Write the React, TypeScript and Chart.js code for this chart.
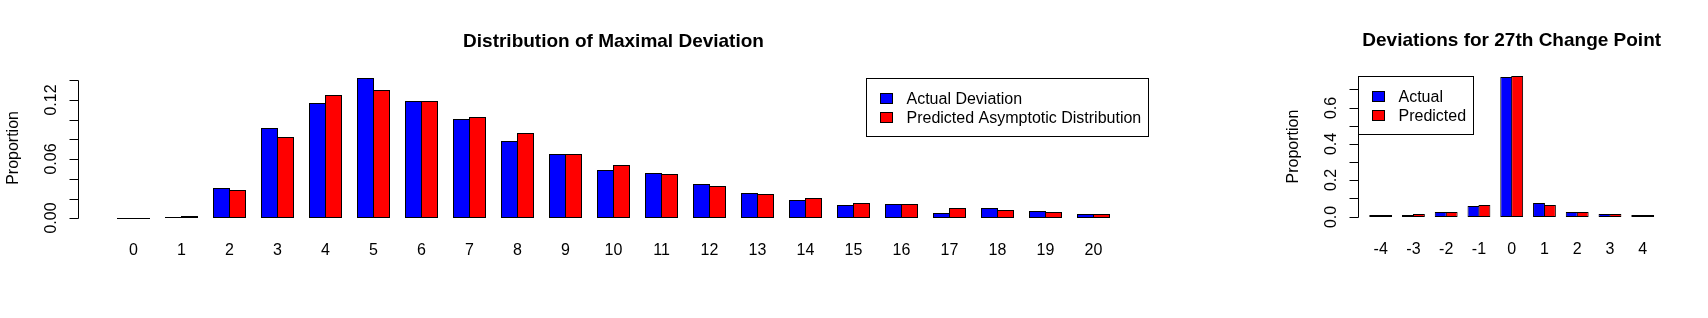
import React, { useEffect, useRef } from "react";
import { Chart, registerables } from "chart.js";

Chart.register(...registerables);

// ---------- data ----------
const mainCategories = ["0", "1", "2", "3", "4", "5", "6", "7", "8", "9", "10", "11", "12", "13", "14", "15", "16", "17", "18", "19", "20"];
const mainActual = [0.0002, 0.0014, 0.0308, 0.0913, 0.117, 0.1424, 0.1187, 0.1004, 0.0785, 0.0649, 0.0487, 0.0457, 0.0345, 0.0254, 0.0183, 0.0132, 0.0142, 0.0051, 0.0101, 0.0071, 0.0041];
const mainPredicted = [0.0001, 0.0024, 0.0284, 0.0822, 0.1251, 0.1302, 0.1187, 0.1028, 0.0866, 0.0649, 0.0538, 0.0446, 0.0325, 0.0243, 0.0203, 0.0152, 0.0142, 0.0101, 0.0081, 0.0061, 0.0041];
const mainYTicks = [0, 0.02, 0.04, 0.06, 0.08, 0.1, 0.12, 0.14];
const mainYTickLabels = ["0.00", "", "", "0.06", "", "", "0.12", ""];
const mainLegend = ["Actual Deviation", "Predicted Asymptotic Distribution"];
const mainTitle = "Distribution of Maximal Deviation";

const smallCategories = ["-4", "-3", "-2", "-1", "0", "1", "2", "3", "4"];
const smallActual = [0.004, 0.003, 0.024, 0.057, 0.766, 0.073, 0.024, 0.013, 0.004];
const smallPredicted = [0.004, 0.013, 0.024, 0.062, 0.771, 0.062, 0.024, 0.013, 0.004];
const smallYTicks = [0, 0.1, 0.2, 0.3, 0.4, 0.5, 0.6, 0.7];
const smallYTickLabels = ["0.0", "", "0.2", "", "0.4", "", "0.6", ""];
const smallLegend = ["Actual", "Predicted"];
const smallTitle = "Deviations for 27th Change Point";

const yTitle = "Proportion";
const BLUE = "#0000FF";
const RED = "#FF0000";
const FONT = '"Liberation Sans", Arial, Helvetica, sans-serif';

const fontStr = (size: number, bold = false) => `${bold ? "bold " : ""}${size}px ${FONT}`;

// R-style axes, title, labels and legend, drawn from the chart's scales
const rStylePlugin = {
  id: "rStyle",
  afterDraw(chart: any, _args: any, o: any) {
    const ctx = chart.ctx as CanvasRenderingContext2D;
    const a = chart.chartArea;
    const xs = chart.scales.x;
    const ys = chart.scales.y;
    ctx.save();
    ctx.fillStyle = "#000";
    ctx.strokeStyle = "#000";
    ctx.lineWidth = 1;

    // title
    ctx.font = fontStr(19, true);
    ctx.textAlign = "center";
    ctx.textBaseline = "alphabetic";
    ctx.fillText(o.title, (a.left + a.right) / 2, a.top - 25.3);

    // y axis
    const ax = Math.round(a.left) + 0.5;
    const ticks: number[] = o.yTicks;
    const p0 = Math.floor(ys.getPixelForValue(ticks[0])) + 0.5;
    const p1 = Math.floor(ys.getPixelForValue(ticks[ticks.length - 1])) + 0.5;
    ctx.beginPath();
    ctx.moveTo(ax, p0);
    ctx.lineTo(ax, p1);
    ticks.forEach((v) => {
      const py = Math.floor(ys.getPixelForValue(v)) + 0.5;
      ctx.moveTo(ax, py);
      ctx.lineTo(ax - 9, py);
    });
    ctx.stroke();

    ctx.font = fontStr(16);
    ticks.forEach((v, i) => {
      const lab = o.yTickLabels[i];
      if (!lab) return;
      ctx.save();
      ctx.translate(ax - 22.7, ys.getPixelForValue(v));
      ctx.rotate(-Math.PI / 2);
      ctx.textAlign = "center";
      ctx.fillText(lab, 0, 0);
      ctx.restore();
    });

    // y title
    ctx.save();
    ctx.translate(ax - 61, (a.top + a.bottom) / 2);
    ctx.rotate(-Math.PI / 2);
    ctx.textAlign = "center";
    ctx.fillText(o.yTitle, 0, 0);
    ctx.restore();

    // x category labels
    ctx.textAlign = "center";
    (o.categories as string[]).forEach((c, i) => {
      ctx.fillText(c, xs.getPixelForValue(i), a.bottom + 31.5);
    });

    // legend
    const labels: string[] = o.legendLabels;
    const lt = Math.round(ys.getPixelForValue(o.legendValue)) + 0.5;
    const tw = Math.max(...labels.map((l) => ctx.measureText(l).width));
    const bw = Math.round(tw + 47.5);
    const bh = 58;
    const left = o.legendSide === "right" ? Math.floor(a.right) - 0.5 - bw : ax;
    ctx.fillStyle = "#fff";
    ctx.fillRect(left, lt, bw, bh);
    ctx.strokeRect(left, lt, bw, bh);
    labels.forEach((l, i) => {
      const cy = lt + 19.5 + i * 19.5;
      const top = Math.floor(cy - 5) + 0.5;
      ctx.fillStyle = chart.data.datasets[i].backgroundColor;
      ctx.fillRect(left + 14, top, 12, 10);
      ctx.strokeRect(left + 14, top, 12, 10);
      ctx.fillStyle = "#000";
      ctx.textAlign = "left";
      ctx.fillText(l, left + 40, cy + 5.7);
    });

    ctx.restore();
  },
};

type PanelProps = {
  canvasLeft: number;
  width: number;
  pad: { left: number; right: number; top: number; bottom: number };
  title: string;
  categories: string[];
  actual: number[];
  predicted: number[];
  yTicks: number[];
  yTickLabels: string[];
  legendLabels: string[];
  legendSide: "left" | "right";
  minBar: number;
};

function BarPanel(p: PanelProps) {
  const ref = useRef<HTMLCanvasElement>(null);
  useEffect(() => {
    if (!ref.current) return;
    const n = p.categories.length;
    // R barplot(beside=TRUE) geometry: bar width 1, space c(0,1), 4% axis expansion
    const e = 0.04 * (3 * n - 1);
    const xMin = (1 - e - 2) / 3;
    const xMax = (3 * n + e - 2) / 3;
    const maxVal = Math.max(...p.actual, ...p.predicted);
    const yMin = -0.04 * maxVal;
    const yMax = 1.04 * maxVal;
    const areaW = p.width - p.pad.left - p.pad.right;
    const chunk = areaW / (xMax - xMin) / 3;
    const ratio = (chunk + 1) / chunk;

    const common = {
      borderColor: "#000",
      borderWidth: 1,
      borderSkipped: false as const,
      categoryPercentage: 2 / 3,
      barPercentage: ratio,
      minBarLength: p.minBar,
    };

    const chart = new Chart(ref.current, {
      type: "bar",
      data: {
        datasets: [
          {
            label: p.legendLabels[0],
            data: p.actual.map((v, i) => ({ x: i, y: v })),
            backgroundColor: BLUE,
            ...common,
          },
          {
            label: p.legendLabels[1],
            data: p.predicted.map((v, i) => ({ x: i, y: v })),
            backgroundColor: RED,
            ...common,
          },
        ],
      },
      options: {
        animation: false,
        responsive: false,
        devicePixelRatio: 1,
        layout: { padding: p.pad },
        scales: {
          x: {
            type: "linear",
            min: xMin,
            max: xMax,
            offset: false,
            display: false,
            afterBuildTicks: (scale: any) => {
              scale.ticks = p.categories.map((_, i) => ({ value: i }));
            },
          },
          y: {
            type: "linear",
            min: yMin,
            max: yMax,
            display: false,
            alignToPixels: true,
          },
        },
        plugins: {
          legend: { display: false },
          tooltip: { enabled: false },
          title: { display: false },
          rStyle: {
            title: p.title,
            yTitle,
            categories: p.categories,
            yTicks: p.yTicks,
            yTickLabels: p.yTickLabels,
            legendLabels: p.legendLabels,
            legendSide: p.legendSide,
            legendValue: maxVal,
          },
        } as any,
      },
      plugins: [rStylePlugin],
    } as any);
    return () => chart.destroy();
  }, []);

  return (
    <canvas
      ref={ref}
      width={p.width}
      height={318}
      style={{ position: "absolute", left: p.canvasLeft, top: 0, width: p.width, height: 318 }}
    />
  );
}

export default function App() {
  useEffect(() => {
    document.body.style.margin = "0";
    document.body.style.background = "#fff";
  }, []);
  return (
    <div style={{ position: "relative", width: 1708, height: 318, background: "#fff", overflow: "hidden" }}>
      <BarPanel
        canvasLeft={0}
        width={1240}
        pad={{ left: 77.82, right: 90.82, top: 72, bottom: 94.1 }}
        title={mainTitle}
        categories={mainCategories}
        actual={mainActual}
        predicted={mainPredicted}
        yTicks={mainYTicks}
        yTickLabels={mainYTickLabels}
        legendLabels={mainLegend}
        legendSide="right"
        minBar={1}
      />
      <BarPanel
        canvasLeft={1240}
        width={468}
        pad={{ left: 118.4, right: 43, top: 70.8, bottom: 95.7 }}
        title={smallTitle}
        categories={smallCategories}
        actual={smallActual}
        predicted={smallPredicted}
        yTicks={smallYTicks}
        yTickLabels={smallYTickLabels}
        legendLabels={smallLegend}
        legendSide="left"
        minBar={2}
      />
    </div>
  );
}
